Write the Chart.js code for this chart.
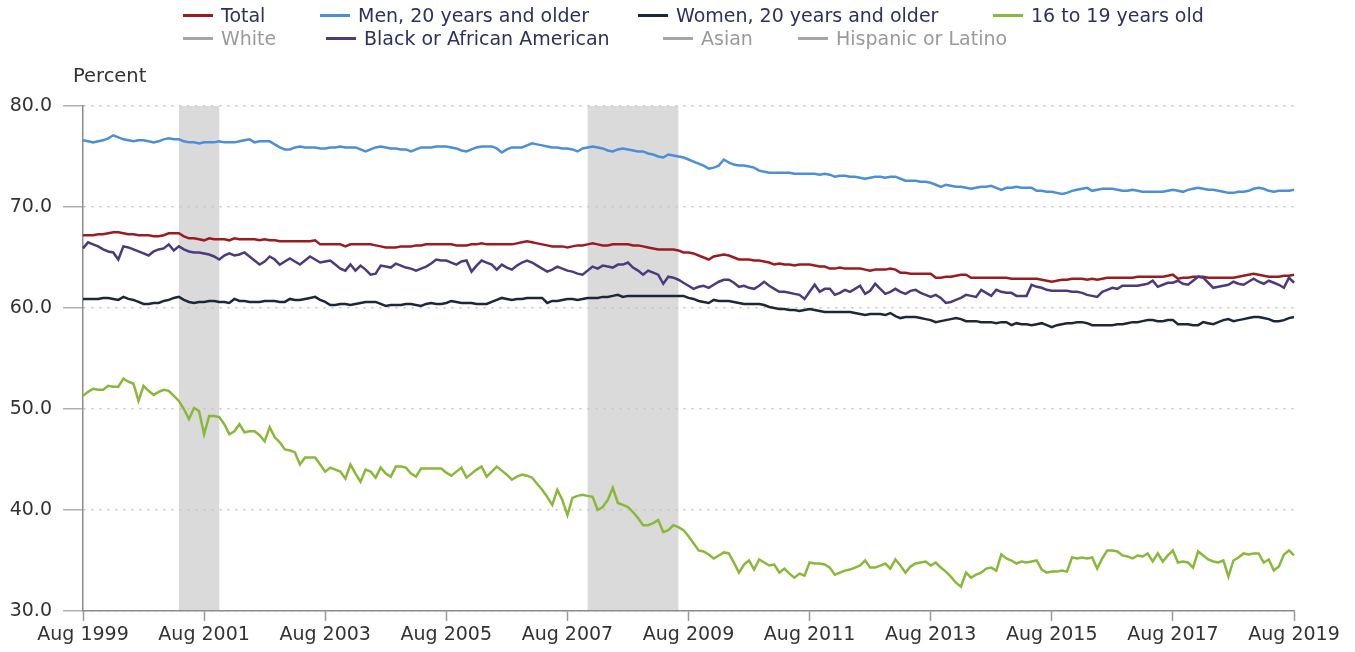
<!DOCTYPE html>
<html>
<head>
<meta charset="utf-8">
<title>Labor force participation rate</title>
<script src="https://cdn.jsdelivr.net/npm/chart.js@4/dist/chart.umd.min.js"></script>
<style>
  body { margin: 0; background: #fff; font-family: "DejaVu Sans", sans-serif; }
  #wrap { position: relative; width: 1355px; height: 652px; }
  #wrap canvas { position: absolute; left: 0; top: 0; }
  .legend-item { position: absolute; display: flex; align-items: center; font-size: 19px; color: #2e3060; white-space: nowrap; }
  .legend-item .swatch { width: 30px; height: 3px; margin-right: 8px; }
  .legend-item.off { color: #9a9a9a; }
  #unit { position: absolute; left: 73px; top: 64px; font-size: 19.5px; color: #333; }
</style>
</head>
<body>
<div id="wrap">
  <canvas id="lfprChart"></canvas>
  <div id="unit">Percent</div>
</div>
<script>
// monthly, Aug 1999 .. Aug 2019
const startYear = 1999, startMonth = 7;
const monthNames = ['Jan','Feb','Mar','Apr','May','Jun','Jul','Aug','Sep','Oct','Nov','Dec'];
const tickLabels = ['Aug 1999','Aug 2001','Aug 2003','Aug 2005','Aug 2007','Aug 2009','Aug 2011','Aug 2013','Aug 2015','Aug 2017','Aug 2019'];
const yTicks = [30, 40, 50, 60, 70, 80];

// recessions as month offsets from Aug 1999 (Mar 2001-Nov 2001, Dec 2007-Jun 2009)
const recessions = [[19, 27], [100, 118]];

const total = [
  67.2,67.2,67.2,67.3,67.3,67.4,67.5,67.5,67.4,67.3,67.3,67.2,
  67.2,67.2,67.1,67.1,67.2,67.4,67.4,67.4,67.1,66.9,66.9,66.8,
  66.7,66.9,66.8,66.8,66.8,66.7,66.9,66.8,66.8,66.8,66.8,66.7,
  66.8,66.7,66.7,66.6,66.6,66.6,66.6,66.6,66.6,66.6,66.7,66.3,
  66.3,66.3,66.3,66.3,66.1,66.3,66.3,66.3,66.3,66.3,66.2,66.1,
  66.0,66.0,66.0,66.1,66.1,66.1,66.2,66.2,66.3,66.3,66.3,66.3,
  66.3,66.3,66.2,66.2,66.2,66.3,66.3,66.4,66.3,66.3,66.3,66.3,
  66.3,66.3,66.4,66.5,66.6,66.5,66.4,66.3,66.2,66.1,66.1,66.1,
  66.0,66.1,66.2,66.2,66.3,66.4,66.3,66.2,66.2,66.3,66.3,66.3,
  66.3,66.2,66.2,66.1,66.0,65.9,65.8,65.8,65.8,65.8,65.7,65.5,
  65.5,65.4,65.2,65.0,64.8,65.1,65.2,65.3,65.2,65.0,64.8,64.8,
  64.8,64.7,64.7,64.6,64.5,64.3,64.4,64.3,64.3,64.2,64.3,64.3,
  64.3,64.2,64.1,64.1,63.9,63.9,64.0,63.9,63.9,63.9,63.9,63.8,
  63.7,63.8,63.8,63.8,63.9,63.8,63.5,63.5,63.4,63.4,63.4,63.4,
  63.4,63.0,63.0,63.1,63.1,63.2,63.3,63.3,63.0,63.0,63.0,63.0,
  63.0,63.0,63.0,63.0,62.9,62.9,62.9,62.9,62.9,62.9,62.8,62.7,
  62.6,62.7,62.8,62.8,62.9,62.9,62.9,62.8,62.9,62.8,62.9,63.0,
  63.0,63.0,63.0,63.0,63.0,63.1,63.1,63.1,63.1,63.1,63.1,63.2,
  63.3,62.9,63.0,63.0,63.1,63.1,63.1,63.0,63.0,63.0,63.0,63.0,
  63.0,63.1,63.2,63.3,63.4,63.3,63.2,63.1,63.1,63.1,63.2,63.2,
  63.3
];

const men20 = [
  76.6,76.5,76.4,76.5,76.6,76.8,77.1,76.9,76.7,76.6,76.5,76.6,
  76.6,76.5,76.4,76.5,76.7,76.8,76.7,76.7,76.5,76.4,76.4,76.3,
  76.4,76.4,76.4,76.5,76.4,76.4,76.4,76.5,76.6,76.7,76.4,76.5,
  76.5,76.5,76.2,75.9,75.7,75.7,75.9,76.0,75.9,75.9,75.9,75.8,
  75.8,75.9,75.9,76.0,75.9,75.9,75.9,75.7,75.5,75.7,75.9,76.0,
  75.9,75.8,75.8,75.7,75.7,75.5,75.7,75.9,75.9,75.9,76.0,76.0,
  76.0,75.9,75.8,75.6,75.5,75.7,75.9,76.0,76.0,76.0,75.8,75.4,
  75.7,75.9,75.9,75.9,76.1,76.3,76.2,76.1,76.0,75.9,75.9,75.8,
  75.8,75.7,75.5,75.8,75.9,76.0,75.9,75.8,75.6,75.5,75.7,75.8,
  75.7,75.6,75.5,75.5,75.3,75.2,75.0,74.9,75.2,75.1,75.0,74.9,
  74.7,74.5,74.3,74.1,73.8,73.9,74.1,74.7,74.4,74.2,74.1,74.1,
  74.0,73.9,73.6,73.5,73.4,73.4,73.4,73.4,73.4,73.3,73.3,73.3,
  73.3,73.3,73.2,73.3,73.2,73.0,73.1,73.1,73.0,73.0,72.9,72.8,
  72.9,73.0,73.0,72.9,73.0,73.0,72.8,72.6,72.6,72.6,72.5,72.5,
  72.4,72.2,72.0,72.2,72.1,72.0,72.0,71.9,71.8,71.9,72.0,72.0,
  72.1,71.9,71.7,71.9,71.9,72.0,71.9,71.9,71.9,71.6,71.6,71.5,
  71.5,71.4,71.3,71.4,71.6,71.7,71.8,71.9,71.6,71.7,71.8,71.8,
  71.8,71.7,71.6,71.6,71.7,71.6,71.5,71.5,71.5,71.5,71.5,71.6,
  71.7,71.6,71.5,71.7,71.8,71.9,71.8,71.7,71.7,71.6,71.5,71.4,
  71.4,71.5,71.5,71.6,71.8,71.9,71.8,71.6,71.5,71.6,71.6,71.6,
  71.7
];

const women20 = [
  60.9,60.9,60.9,60.9,61.0,61.0,60.9,60.8,61.1,60.9,60.8,60.6,
  60.4,60.4,60.5,60.5,60.7,60.8,61.0,61.1,60.8,60.6,60.5,60.6,
  60.6,60.7,60.7,60.6,60.6,60.5,60.9,60.7,60.7,60.6,60.6,60.6,
  60.7,60.7,60.7,60.6,60.6,60.9,60.8,60.8,60.9,61.0,61.1,60.8,
  60.6,60.3,60.3,60.4,60.4,60.3,60.4,60.5,60.6,60.6,60.6,60.4,
  60.2,60.3,60.3,60.3,60.4,60.4,60.3,60.2,60.4,60.5,60.4,60.4,
  60.5,60.7,60.6,60.5,60.5,60.5,60.4,60.4,60.4,60.6,60.8,61.0,
  60.9,60.8,60.9,60.9,61.0,61.0,61.0,61.0,60.5,60.7,60.7,60.8,
  60.9,60.9,60.8,60.9,61.0,61.0,61.0,61.1,61.1,61.2,61.3,61.1,
  61.2,61.2,61.2,61.2,61.2,61.2,61.2,61.2,61.2,61.2,61.2,61.2,
  61.0,60.9,60.7,60.6,60.5,60.8,60.7,60.7,60.7,60.6,60.5,60.4,
  60.4,60.4,60.4,60.3,60.1,60.0,59.9,59.9,59.8,59.8,59.7,59.8,
  59.9,59.8,59.7,59.6,59.6,59.6,59.6,59.6,59.6,59.5,59.4,59.3,
  59.4,59.4,59.4,59.3,59.5,59.2,59.0,59.1,59.1,59.1,59.0,58.9,
  58.8,58.6,58.7,58.8,58.9,59.0,58.9,58.7,58.7,58.7,58.6,58.6,
  58.6,58.5,58.6,58.6,58.3,58.5,58.4,58.4,58.3,58.4,58.5,58.3,
  58.1,58.3,58.4,58.5,58.5,58.6,58.6,58.5,58.3,58.3,58.3,58.3,
  58.3,58.4,58.4,58.5,58.6,58.6,58.7,58.8,58.8,58.7,58.7,58.8,
  58.8,58.4,58.4,58.4,58.3,58.3,58.6,58.5,58.4,58.6,58.8,58.9,
  58.7,58.8,58.9,59.0,59.1,59.1,59.0,58.9,58.7,58.7,58.8,59.0,
  59.1
];

const teens = [
  51.3,51.7,52.0,51.9,51.9,52.3,52.2,52.2,53.0,52.7,52.5,50.8,
  52.3,51.8,51.4,51.7,51.9,51.8,51.3,50.8,50.0,49.0,50.1,49.8,
  47.5,49.3,49.3,49.2,48.5,47.5,47.8,48.5,47.7,47.8,47.8,47.4,
  46.8,48.2,47.2,46.7,46.0,45.9,45.7,44.5,45.2,45.2,45.2,44.5,
  43.8,44.2,44.0,43.8,43.1,44.5,43.6,42.8,44.0,43.8,43.2,44.2,
  43.6,43.3,44.3,44.3,44.2,43.6,43.3,44.1,44.1,44.1,44.1,44.1,
  43.7,43.4,43.8,44.2,43.2,43.6,44.0,44.3,43.3,43.8,44.3,43.9,
  43.5,43.0,43.3,43.5,43.4,43.2,42.6,42.0,41.3,40.5,42.0,41.0,
  39.5,41.2,41.4,41.5,41.4,41.3,40.0,40.3,41.0,42.2,40.7,40.5,
  40.3,39.8,39.2,38.5,38.5,38.7,39.0,37.8,38.0,38.5,38.3,38.0,
  37.4,36.7,36.0,35.9,35.6,35.2,35.5,35.8,35.7,34.8,33.8,34.6,
  35.0,34.1,35.1,34.8,34.5,34.6,33.8,34.2,33.7,33.3,33.7,33.5,
  34.8,34.7,34.7,34.6,34.3,33.6,33.8,34.0,34.1,34.3,34.5,35.0,
  34.3,34.3,34.5,34.7,34.2,35.1,34.5,33.8,34.4,34.7,34.8,34.9,
  34.5,34.8,34.3,33.9,33.4,32.8,32.4,33.8,33.3,33.6,33.8,34.2,
  34.3,34.0,35.6,35.2,35.0,34.7,34.9,34.8,34.9,35.0,34.1,33.8,
  33.9,33.9,34.0,33.9,35.3,35.2,35.3,35.2,35.3,34.2,35.2,36.0,
  36.0,35.9,35.5,35.4,35.2,35.5,35.4,35.7,34.9,35.7,34.9,35.5,
  36.0,34.8,34.9,34.8,34.3,35.9,35.5,35.1,34.9,34.8,35.0,33.4,
  35.0,35.3,35.7,35.6,35.7,35.7,34.8,35.1,34.0,34.4,35.6,36.0,
  35.5
];

const black = [
  65.9,66.5,66.3,66.1,65.8,65.6,65.5,64.8,66.1,66.0,65.8,65.6,
  65.4,65.2,65.6,65.8,65.9,66.3,65.7,66.1,65.8,65.6,65.5,65.5,
  65.4,65.3,65.1,64.8,65.2,65.4,65.2,65.3,65.5,65.1,64.7,64.3,
  64.6,65.1,64.8,64.3,64.6,64.9,64.6,64.3,64.7,65.1,64.8,64.5,
  64.6,64.7,64.3,63.9,63.7,64.3,63.7,64.2,63.8,63.3,63.4,64.2,
  64.1,64.0,64.4,64.2,64.0,63.9,63.7,63.9,64.1,64.4,64.8,64.7,
  64.7,64.5,64.3,64.6,64.7,63.6,64.2,64.7,64.5,64.3,63.8,64.3,
  64.0,63.8,64.2,64.5,64.7,64.5,64.2,63.9,63.6,63.8,64.1,63.9,
  63.7,63.6,63.4,63.3,63.7,64.1,63.9,64.2,64.1,64.0,64.3,64.3,
  64.5,64.0,63.7,63.3,63.7,63.5,63.3,62.4,63.1,63.0,62.8,62.5,
  62.2,61.9,62.1,62.2,62.0,62.3,62.6,62.8,62.8,62.5,62.1,62.2,
  62.0,61.9,62.2,62.6,62.2,61.9,61.6,61.6,61.5,61.4,61.3,60.9,
  61.6,62.3,61.6,61.9,61.9,61.3,61.5,61.8,61.6,61.9,62.2,61.4,
  61.7,62.4,61.9,61.4,61.6,61.9,61.6,61.4,61.7,61.8,61.5,61.3,
  61.1,61.3,61.0,60.5,60.6,60.8,61.0,61.3,61.2,61.1,61.8,61.5,
  61.2,61.8,61.6,61.5,61.5,61.2,61.2,61.2,62.3,62.1,62.0,61.8,
  61.7,61.7,61.7,61.7,61.6,61.6,61.5,61.3,61.2,61.1,61.6,61.8,
  62.0,61.9,62.2,62.2,62.2,62.2,62.3,62.4,62.7,62.1,62.3,62.5,
  62.5,62.7,62.4,62.3,62.7,63.1,63.0,62.5,62.0,62.1,62.2,62.3,
  62.6,62.4,62.3,62.6,62.9,62.6,62.4,62.7,62.5,62.3,62.0,63.0,
  62.5
];

// legend entries: name, colour, shown in chart or greyed out
const legendNames = ['Total', 'Men, 20 years and older', 'Women, 20 years and older', '16 to 19 years old',
                     'White', 'Black or African American', 'Asian', 'Hispanic or Latino'];
const legendColors = ['#9b1c20', '#4a8fd8', '#1c2838', '#8ab83a', '#a6a6a6', '#4b3b7c', '#a6a6a6', '#a6a6a6'];
const legendActive = [true, true, true, true, false, true, false, false];
const legendPos = [[183, 16], [320, 16], [638, 16], [993, 16], [183, 39], [326, 39], [663, 39], [798, 39]];

const labels = [];
for (let i = 0; i < total.length; i++) {
  const m = startMonth + i;
  labels.push(`${monthNames[m % 12]} ${startYear + Math.floor(m / 12)}`);
}

// html legend
const wrap = document.getElementById('wrap');
legendNames.forEach((name, i) => {
  const item = document.createElement('div');
  item.className = 'legend-item' + (legendActive[i] ? '' : ' off');
  item.style.left = legendPos[i][0] + 'px';
  item.style.top = (legendPos[i][1] - 12) + 'px';
  item.innerHTML = `<span class="swatch" style="background:${legendColors[i]}"></span><span>${name}</span>`;
  wrap.appendChild(item);
});

const recessionShade = {
  id: 'recessionShade',
  beforeDraw(chart) {
    const { ctx, chartArea, scales } = chart;
    ctx.save();
    ctx.fillStyle = '#dadada';
    recessions.forEach(([a, b]) => {
      const x1 = scales.x.getPixelForValue(a);
      const x2 = scales.x.getPixelForValue(b);
      ctx.fillRect(x1, chartArea.top, x2 - x1, chartArea.bottom - chartArea.top);
    });
    ctx.restore();
  }
};

const line = (data, color) => ({
  data, borderColor: color, backgroundColor: color,
  borderWidth: 2.5, pointRadius: 0, tension: 0, fill: false
});

const canvas = document.getElementById('lfprChart');
canvas.width = 1355; canvas.height = 652;

new Chart(canvas, {
  type: 'line',
  data: {
    labels,
    datasets: [
      line(women20, legendColors[2]),
      line(teens, legendColors[3]),
      line(black, legendColors[5]),
      line(men20, legendColors[1]),
      line(total, legendColors[0])
    ]
  },
  options: {
    responsive: false,
    animation: false,
    layout: { padding: { top: 106, right: 61, left: 0, bottom: 0 } },
    plugins: { legend: { display: false }, tooltip: { enabled: false } },
    scales: {
      x: {
        type: 'category',
        offset: false,
        afterFit: s => { s.height = 41; },
        grid: {
          drawOnChartArea: false,
          tickLength: 10,
          tickColor: c => (c.index % 24 === 0 ? '#9a9a9a' : 'rgba(0,0,0,0)'),
          tickWidth: 1.5
        },
        border: { color: '#8c8c8c', width: 1.5 },
        ticks: {
          autoSkip: false, maxRotation: 0, padding: 3,
          color: '#333', font: { family: 'DejaVu Sans', size: 19 },
          callback: (v, i) => (i % 24 === 0 ? tickLabels[i / 24] : '')
        }
      },
      y: {
        min: yTicks[0], max: yTicks[yTicks.length - 1],
        afterFit: s => { s.width = 83; },
        afterBuildTicks: s => { s.ticks = yTicks.map(v => ({ value: v })); },
        grid: {
          color: '#c4c4c4', lineWidth: 1.5,
          tickLength: 20, tickColor: '#b0b0b0', tickWidth: 1.5
        },
        border: { color: '#8c8c8c', width: 1.5, dash: [2, 6] },
        ticks: {
          padding: 11, color: '#333', font: { family: 'DejaVu Sans', size: 19 },
          callback: v => v.toFixed(1)
        }
      }
    }
  },
  plugins: [recessionShade]
});
</script>
</body>
</html>
